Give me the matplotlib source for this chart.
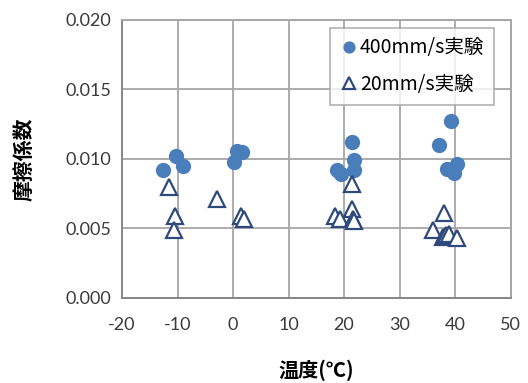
import matplotlib
matplotlib.use("Agg")
import matplotlib.pyplot as plt

plt.rcParams["font.family"] = ["Noto Sans CJK JP", "DejaVu Sans"]
plt.rcParams["axes.unicode_minus"] = False

# 400mm/s experiment: temperature (°C) and friction coefficient
fast_temp = [-12.6, -10.3, -9.1, 0.7, 1.6, 0.2,
             21.4, 21.8, 21.8, 18.7, 19.4,
             39.3, 37.1, 40.3, 38.5, 39.8]
fast_mu = [0.0092, 0.0102, 0.0095, 0.0106, 0.0105, 0.0098,
           0.0112, 0.0099, 0.0092, 0.0092, 0.0089,
           0.0127, 0.0110, 0.0096, 0.0093, 0.0090]

# 20mm/s experiment
slow_temp = [-11.5, -10.5, -10.6, -2.9, 1.4, 1.9,
             21.4, 21.4, 18.4, 19.2, 21.7, 21.8,
             38.1, 36.1, 37.8, 38.4, 38.9, 40.3]
slow_mu = [0.0080, 0.0059, 0.0049, 0.0071, 0.0059, 0.0057,
           0.0082, 0.0064, 0.0059, 0.0057, 0.0057, 0.0055,
           0.0061, 0.0049, 0.0044, 0.0045, 0.0046, 0.0043]

x_ticks = [-20, -10, 0, 10, 20, 30, 40, 50]
y_ticks = [0.000, 0.005, 0.010, 0.015, 0.020]

grid_color = "#a6a6a6"
axis_color = "#868686"

fig = plt.figure(figsize=(5.28, 3.83), dpi=100)
ax = fig.add_axes([0.2311, 0.2227, 0.7358, 0.7251])

ax.plot(fast_temp, fast_mu, "o", color="#4a7ebb", markersize=11,
        markeredgewidth=0, label="400mm/s実験", zorder=3)
ax.plot(slow_temp, slow_mu, "^", markerfacecolor="white", markeredgecolor="#2e4a7d",
        markersize=11, markeredgewidth=1.6, label="20mm/s実験", zorder=3)

ax.set_xlim(-20, 50)
ax.set_ylim(0, 0.020)
ax.set_xticks(x_ticks)
ax.set_yticks(y_ticks)
ax.set_yticklabels([f"{v:.3f}" for v in y_ticks])
ax.grid(True, color=grid_color, linewidth=1.3)
ax.set_axisbelow(True)
ax.spines["top"].set_color(grid_color)
ax.spines["right"].set_color(grid_color)
ax.spines["left"].set_color(axis_color)
ax.spines["bottom"].set_color(axis_color)
for side in ax.spines.values():
    side.set_linewidth(1.4)
ax.tick_params(length=0, labelsize=13, colors="#3a3a3a")
ax.tick_params(axis="x", pad=14)
ax.tick_params(axis="y", pad=8)
for lab in ax.get_xticklabels() + ax.get_yticklabels():
    lab.set_family(["Lato", "DejaVu Sans"])

ax.set_xlabel("温度(℃)", fontsize=14.5, fontweight="bold", labelpad=19)
ax.set_ylabel("摩擦係数", fontsize=15, fontweight="bold", labelpad=22)

leg = ax.legend(loc="upper right", bbox_to_anchor=(0.958, 0.972), fontsize=14,
                frameon=True, fancybox=False, edgecolor=grid_color,
                handletextpad=0.05, labelspacing=0.8, borderpad=0.5,
                handlelength=1.0, borderaxespad=0, markerscale=0.8)
leg.get_frame().set_linewidth(1.3)

fig.savefig("out.png", dpi=100)
